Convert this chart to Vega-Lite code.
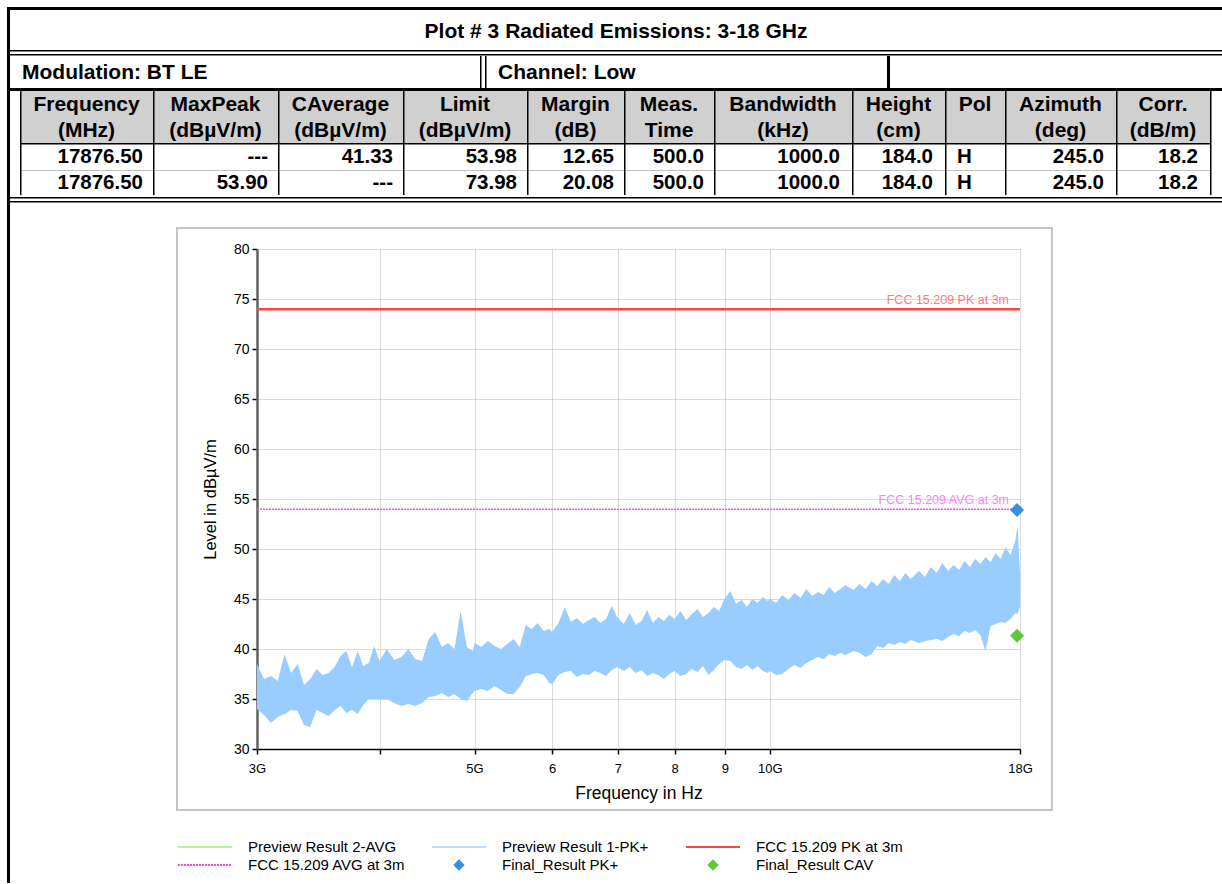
{
  "$schema": "https://vega.github.io/schema/vega-lite/v6.json",
  "padding": {"left": 7, "top": 7, "right": 0, "bottom": 0},
  "background": "white",
  "config": {
    "view": {"stroke": null},
    "font": "Liberation Sans",
    "text": {"font": "Liberation Sans"}
  },
  "datasets": {
    "table": [
      {"c": "freq", "r": "h1", "t": "Frequency"}, {"c": "freq", "r": "h2", "t": "(MHz)"}, {"c": "freq", "r": "d1", "t": "17876.50"}, {"c": "freq", "r": "d2", "t": "17876.50"},
      {"c": "maxpk", "r": "h1", "t": "MaxPeak"}, {"c": "maxpk", "r": "h2", "t": "(dBµV/m)"}, {"c": "maxpk", "r": "d1", "t": "---"}, {"c": "maxpk", "r": "d2", "t": "53.90"},
      {"c": "cavg", "r": "h1", "t": "CAverage"}, {"c": "cavg", "r": "h2", "t": "(dBµV/m)"}, {"c": "cavg", "r": "d1", "t": "41.33"}, {"c": "cavg", "r": "d2", "t": "---"},
      {"c": "limit", "r": "h1", "t": "Limit"}, {"c": "limit", "r": "h2", "t": "(dBµV/m)"}, {"c": "limit", "r": "d1", "t": "53.98"}, {"c": "limit", "r": "d2", "t": "73.98"},
      {"c": "margin", "r": "h1", "t": "Margin"}, {"c": "margin", "r": "h2", "t": "(dB)"}, {"c": "margin", "r": "d1", "t": "12.65"}, {"c": "margin", "r": "d2", "t": "20.08"},
      {"c": "meas", "r": "h1", "t": "Meas."}, {"c": "meas", "r": "h2", "t": "Time"}, {"c": "meas", "r": "d1", "t": "500.0"}, {"c": "meas", "r": "d2", "t": "500.0"},
      {"c": "bw", "r": "h1", "t": "Bandwidth"}, {"c": "bw", "r": "h2", "t": "(kHz)"}, {"c": "bw", "r": "d1", "t": "1000.0"}, {"c": "bw", "r": "d2", "t": "1000.0"},
      {"c": "height", "r": "h1", "t": "Height"}, {"c": "height", "r": "h2", "t": "(cm)"}, {"c": "height", "r": "d1", "t": "184.0"}, {"c": "height", "r": "d2", "t": "184.0"},
      {"c": "pol", "r": "h1", "t": "Pol"}, {"c": "pol", "r": "h2", "t": ""}, {"c": "pol", "r": "d1", "t": "H"}, {"c": "pol", "r": "d2", "t": "H"},
      {"c": "az", "r": "h1", "t": "Azimuth"}, {"c": "az", "r": "h2", "t": "(deg)"}, {"c": "az", "r": "d1", "t": "245.0"}, {"c": "az", "r": "d2", "t": "245.0"},
      {"c": "corr", "r": "h1", "t": "Corr."}, {"c": "corr", "r": "h2", "t": "(dB/m)"}, {"c": "corr", "r": "d1", "t": "18.2"}, {"c": "corr", "r": "d2", "t": "18.2"}
    ],
    "trace": [
      {"f": 3000, "lo": 34.0, "hi": 38.5}, {"f": 3050, "lo": 33.4, "hi": 37.0}, {"f": 3100, "lo": 32.6, "hi": 37.3}, {"f": 3150, "lo": 33.2, "hi": 36.8},
      {"f": 3200, "lo": 33.5, "hi": 39.5}, {"f": 3250, "lo": 33.9, "hi": 37.6}, {"f": 3300, "lo": 33.8, "hi": 38.5}, {"f": 3350, "lo": 32.4, "hi": 36.4},
      {"f": 3400, "lo": 32.2, "hi": 37.0}, {"f": 3450, "lo": 33.9, "hi": 38.0}, {"f": 3500, "lo": 33.6, "hi": 37.4}, {"f": 3550, "lo": 33.3, "hi": 37.6},
      {"f": 3600, "lo": 33.9, "hi": 38.2}, {"f": 3650, "lo": 34.3, "hi": 39.3}, {"f": 3700, "lo": 33.6, "hi": 39.8}, {"f": 3750, "lo": 33.9, "hi": 38.2},
      {"f": 3800, "lo": 33.5, "hi": 39.8}, {"f": 3850, "lo": 34.4, "hi": 38.3}, {"f": 3900, "lo": 35.0, "hi": 38.6}, {"f": 3950, "lo": 35.0, "hi": 40.3},
      {"f": 4000, "lo": 35.0, "hi": 38.8}, {"f": 4070, "lo": 35.0, "hi": 40.0}, {"f": 4140, "lo": 34.6, "hi": 38.9}, {"f": 4210, "lo": 34.3, "hi": 39.2},
      {"f": 4280, "lo": 34.5, "hi": 40.0}, {"f": 4350, "lo": 34.3, "hi": 39.0}, {"f": 4420, "lo": 34.6, "hi": 38.8}, {"f": 4490, "lo": 35.2, "hi": 41.0},
      {"f": 4560, "lo": 35.3, "hi": 41.7}, {"f": 4630, "lo": 35.6, "hi": 40.2}, {"f": 4700, "lo": 35.2, "hi": 40.6}, {"f": 4770, "lo": 35.5, "hi": 40.0},
      {"f": 4840, "lo": 35.0, "hi": 43.8}, {"f": 4910, "lo": 34.8, "hi": 40.2}, {"f": 4980, "lo": 35.6, "hi": 39.8},
      {"f": 5000, "lo": 35.8, "hi": 40.6}, {"f": 5080, "lo": 36.0, "hi": 40.2}, {"f": 5160, "lo": 35.8, "hi": 40.8}, {"f": 5240, "lo": 36.3, "hi": 40.3},
      {"f": 5320, "lo": 35.9, "hi": 40.0}, {"f": 5400, "lo": 35.5, "hi": 40.5}, {"f": 5480, "lo": 35.5, "hi": 41.0}, {"f": 5560, "lo": 36.2, "hi": 40.2},
      {"f": 5640, "lo": 37.3, "hi": 42.4}, {"f": 5720, "lo": 37.5, "hi": 42.0}, {"f": 5800, "lo": 37.6, "hi": 42.6}, {"f": 5880, "lo": 37.4, "hi": 41.8},
      {"f": 5960, "lo": 36.6, "hi": 42.0},
      {"f": 6000, "lo": 36.5, "hi": 41.7}, {"f": 6090, "lo": 37.4, "hi": 42.6}, {"f": 6180, "lo": 37.7, "hi": 44.2}, {"f": 6270, "lo": 37.8, "hi": 42.7},
      {"f": 6360, "lo": 37.2, "hi": 43.1}, {"f": 6450, "lo": 37.5, "hi": 42.5}, {"f": 6540, "lo": 37.4, "hi": 42.9}, {"f": 6630, "lo": 37.8, "hi": 43.2},
      {"f": 6720, "lo": 37.6, "hi": 42.6}, {"f": 6810, "lo": 37.3, "hi": 43.0}, {"f": 6900, "lo": 37.9, "hi": 44.3}, {"f": 6990, "lo": 38.2, "hi": 43.2},
      {"f": 7100, "lo": 37.8, "hi": 42.5}, {"f": 7200, "lo": 38.2, "hi": 43.6}, {"f": 7300, "lo": 37.6, "hi": 42.4}, {"f": 7400, "lo": 37.9, "hi": 42.8},
      {"f": 7500, "lo": 37.3, "hi": 43.9}, {"f": 7600, "lo": 37.6, "hi": 42.6}, {"f": 7700, "lo": 37.4, "hi": 43.2}, {"f": 7800, "lo": 37.0, "hi": 42.8},
      {"f": 7900, "lo": 37.5, "hi": 43.4},
      {"f": 8000, "lo": 37.8, "hi": 43.0}, {"f": 8110, "lo": 37.3, "hi": 43.8}, {"f": 8220, "lo": 37.5, "hi": 42.9}, {"f": 8330, "lo": 38.0, "hi": 43.5},
      {"f": 8440, "lo": 37.7, "hi": 44.0}, {"f": 8550, "lo": 38.3, "hi": 43.2}, {"f": 8660, "lo": 37.4, "hi": 43.6}, {"f": 8770, "lo": 37.9, "hi": 44.2},
      {"f": 8880, "lo": 38.5, "hi": 43.8}, {"f": 8990, "lo": 38.9, "hi": 45.0},
      {"f": 9120, "lo": 38.8, "hi": 45.8}, {"f": 9240, "lo": 38.2, "hi": 44.5}, {"f": 9360, "lo": 38.0, "hi": 44.9}, {"f": 9480, "lo": 38.4, "hi": 44.2},
      {"f": 9600, "lo": 37.9, "hi": 45.0}, {"f": 9720, "lo": 38.3, "hi": 44.6}, {"f": 9840, "lo": 37.8, "hi": 45.2}, {"f": 9960, "lo": 37.6, "hi": 44.8},
      {"f": 10000, "lo": 37.8, "hi": 45.0}, {"f": 10150, "lo": 37.4, "hi": 44.6}, {"f": 10300, "lo": 37.5, "hi": 45.4}, {"f": 10450, "lo": 38.0, "hi": 44.9},
      {"f": 10600, "lo": 38.4, "hi": 45.6}, {"f": 10750, "lo": 38.1, "hi": 45.1}, {"f": 10900, "lo": 38.6, "hi": 46.0}, {"f": 11050, "lo": 38.9, "hi": 45.3},
      {"f": 11200, "lo": 39.2, "hi": 45.7}, {"f": 11350, "lo": 39.0, "hi": 45.4}, {"f": 11500, "lo": 39.5, "hi": 46.2}, {"f": 11650, "lo": 39.3, "hi": 45.6},
      {"f": 11800, "lo": 39.6, "hi": 46.0}, {"f": 11950, "lo": 39.4, "hi": 46.4}, {"f": 12175, "lo": 39.8, "hi": 45.9}, {"f": 12350, "lo": 39.6, "hi": 46.5},
      {"f": 12525, "lo": 39.2, "hi": 46.0}, {"f": 12700, "lo": 39.5, "hi": 46.8}, {"f": 12875, "lo": 40.3, "hi": 46.3}, {"f": 13050, "lo": 40.1, "hi": 47.0},
      {"f": 13225, "lo": 40.6, "hi": 46.5}, {"f": 13400, "lo": 40.4, "hi": 47.4}, {"f": 13575, "lo": 40.7, "hi": 46.8}, {"f": 13750, "lo": 40.5, "hi": 47.6},
      {"f": 13925, "lo": 40.9, "hi": 47.0}, {"f": 14200, "lo": 40.6, "hi": 47.8}, {"f": 14400, "lo": 40.8, "hi": 47.2}, {"f": 14600, "lo": 40.9, "hi": 48.2},
      {"f": 14800, "lo": 41.0, "hi": 47.6}, {"f": 15000, "lo": 40.8, "hi": 48.6}, {"f": 15200, "lo": 41.2, "hi": 47.8}, {"f": 15400, "lo": 41.5, "hi": 48.4},
      {"f": 15600, "lo": 41.3, "hi": 47.9}, {"f": 15800, "lo": 41.8, "hi": 48.8}, {"f": 16000, "lo": 41.6, "hi": 48.2}, {"f": 16200, "lo": 41.9, "hi": 49.0},
      {"f": 16400, "lo": 41.4, "hi": 48.5}, {"f": 16600, "lo": 39.8, "hi": 49.2}, {"f": 16800, "lo": 42.3, "hi": 48.7}, {"f": 17000, "lo": 42.5, "hi": 49.6},
      {"f": 17200, "lo": 42.7, "hi": 49.0}, {"f": 17400, "lo": 42.6, "hi": 50.2}, {"f": 17600, "lo": 43.0, "hi": 49.4}, {"f": 17800, "lo": 43.6, "hi": 50.8},
      {"f": 17900, "lo": 43.5, "hi": 52.3}, {"f": 18000, "lo": 44.2, "hi": 47.5}
    ],
    "limits": [
      {"series": "FCC 15.209 PK at 3m", "f": 3000, "level": 73.98},
      {"series": "FCC 15.209 PK at 3m", "f": 18000, "level": 73.98},
      {"series": "FCC 15.209 AVG at 3m", "f": 3000, "level": 53.98},
      {"series": "FCC 15.209 AVG at 3m", "f": 18000, "level": 53.98}
    ],
    "finals": [
      {"series": "Final_Result PK+", "f": 17876.5, "level": 53.90},
      {"series": "Final_Result CAV", "f": 17876.5, "level": 41.33}
    ],
    "legend": [
      {"series": "Preview Result 2-AVG"},
      {"series": "Preview Result 1-PK+"},
      {"series": "FCC 15.209 PK at 3m"},
      {"series": "FCC 15.209 AVG at 3m"},
      {"series": "Final_Result PK+"},
      {"series": "Final_Result CAV"}
    ]
  },
  "spacing": 0,
  "hconcat": [
    {"width": 3, "height": 876, "data": {"values": [{}]}, "mark": {"type": "rect", "color": "#000"}},
    {
      "spacing": 0,
      "vconcat": [
        {"width": 1212, "height": 3, "data": {"values": [{}]}, "mark": {"type": "rect", "color": "#000"}},
        {"width": 1212, "height": 40, "data": {"values": [{"t": "Plot # 3 Radiated Emissions: 3-18 GHz"}]},
         "mark": {"type": "text", "fontSize": 21, "fontWeight": "bold", "align": "center", "baseline": "middle", "dy": 2, "color": "#000"},
         "encoding": {"text": {"field": "t"}}},
        {"width": 1212, "height": 1.5, "data": {"values": [{}]}, "mark": {"type": "rect", "color": "#000"}},
        {"width": 1212, "height": 1.5, "data": {"values": []}, "mark": "rect"},
        {"width": 1212, "height": 1.5, "data": {"values": [{}]}, "mark": {"type": "rect", "color": "#000"}},
        {
          "spacing": 0,
          "hconcat": [
            {"width": 470, "height": 32, "data": {"values": [{"t": "Modulation: BT LE"}]},
             "mark": {"type": "text", "fontSize": 21, "fontWeight": "bold", "align": "left", "baseline": "middle", "x": 0, "dx": 12, "dy": 1, "color": "#000"},
             "encoding": {"text": {"field": "t"}}},
            {"width": 1.5, "height": 32, "data": {"values": [{}]}, "mark": {"type": "rect", "color": "#000"}},
            {"width": 3, "height": 32, "data": {"values": []}, "mark": "rect"},
            {"width": 1.5, "height": 32, "data": {"values": [{}]}, "mark": {"type": "rect", "color": "#000"}},
            {"width": 400, "height": 32, "data": {"values": [{"t": "Channel: Low"}]},
             "mark": {"type": "text", "fontSize": 21, "fontWeight": "bold", "align": "left", "baseline": "middle", "x": 0, "dx": 11, "dy": 1, "color": "#000"},
             "encoding": {"text": {"field": "t"}}},
            {"width": 3, "height": 32, "data": {"values": [{}]}, "mark": {"type": "rect", "color": "#000"}},
            {"width": 333, "height": 32, "data": {"values": []}, "mark": "rect"}
          ]
        },
        {"width": 1212, "height": 3, "data": {"values": [{}]}, "mark": {"type": "rect", "color": "#000"}},
        {
          "spacing": 0,
          "data": {"name": "table"},
          "hconcat": [
            {"width": 10, "height": 104, "data": {"values": []}, "mark": "rect"},
            {"width": 133, "height": 104, "view": {"fill": "#000"}, "transform": [{"filter": "datum.c === 'freq'"}],
             "encoding": {"y": {"field": "r", "type": "nominal", "axis": null, "scale": {"type": "band", "domain": ["h1", "h2", "d1", "d2"], "paddingInner": 0, "paddingOuter": 0}}},
             "layer": [
               {"transform": [{"filter": "datum.r[0] === 'h'"}], "mark": {"type": "rect", "color": "#d0d0d0", "x": 1.5, "x2": "width"}},
               {"transform": [{"filter": "datum.r[0] === 'd'"}], "mark": {"type": "rect", "color": "#fff", "x": 1.5, "x2": "width", "yOffset": 1.5}},
               {"transform": [{"filter": "datum.r[0] === 'h'"}], "mark": {"type": "text", "fontSize": 21, "fontWeight": "bold", "align": "center", "baseline": "middle", "dy": 1, "color": "#000"}, "encoding": {"text": {"field": "t"}}},
               {"transform": [{"filter": "datum.r[0] === 'd'"}], "mark": {"type": "text", "fontSize": 20.5, "fontWeight": "bold", "align": "right", "baseline": "middle", "x": "width", "dx": -10, "dy": 1, "color": "#000"}, "encoding": {"text": {"field": "t"}}}
             ]},
            {"width": 125, "height": 104, "view": {"fill": "#000"}, "transform": [{"filter": "datum.c === 'maxpk'"}],
             "encoding": {"y": {"field": "r", "type": "nominal", "axis": null, "scale": {"type": "band", "domain": ["h1", "h2", "d1", "d2"], "paddingInner": 0, "paddingOuter": 0}}},
             "layer": [
               {"transform": [{"filter": "datum.r[0] === 'h'"}], "mark": {"type": "rect", "color": "#d0d0d0", "x": 1.5, "x2": "width"}},
               {"transform": [{"filter": "datum.r[0] === 'd'"}], "mark": {"type": "rect", "color": "#fff", "x": 1.5, "x2": "width", "yOffset": 1.5}},
               {"transform": [{"filter": "datum.r[0] === 'h'"}], "mark": {"type": "text", "fontSize": 21, "fontWeight": "bold", "align": "center", "baseline": "middle", "dy": 1, "color": "#000"}, "encoding": {"text": {"field": "t"}}},
               {"transform": [{"filter": "datum.r[0] === 'd'"}], "mark": {"type": "text", "fontSize": 20.5, "fontWeight": "bold", "align": "right", "baseline": "middle", "x": "width", "dx": -10, "dy": 1, "color": "#000"}, "encoding": {"text": {"field": "t"}}}
             ]},
            {"width": 125, "height": 104, "view": {"fill": "#000"}, "transform": [{"filter": "datum.c === 'cavg'"}],
             "encoding": {"y": {"field": "r", "type": "nominal", "axis": null, "scale": {"type": "band", "domain": ["h1", "h2", "d1", "d2"], "paddingInner": 0, "paddingOuter": 0}}},
             "layer": [
               {"transform": [{"filter": "datum.r[0] === 'h'"}], "mark": {"type": "rect", "color": "#d0d0d0", "x": 1.5, "x2": "width"}},
               {"transform": [{"filter": "datum.r[0] === 'd'"}], "mark": {"type": "rect", "color": "#fff", "x": 1.5, "x2": "width", "yOffset": 1.5}},
               {"transform": [{"filter": "datum.r[0] === 'h'"}], "mark": {"type": "text", "fontSize": 21, "fontWeight": "bold", "align": "center", "baseline": "middle", "dy": 1, "color": "#000"}, "encoding": {"text": {"field": "t"}}},
               {"transform": [{"filter": "datum.r[0] === 'd'"}], "mark": {"type": "text", "fontSize": 20.5, "fontWeight": "bold", "align": "right", "baseline": "middle", "x": "width", "dx": -10, "dy": 1, "color": "#000"}, "encoding": {"text": {"field": "t"}}}
             ]},
            {"width": 124, "height": 104, "view": {"fill": "#000"}, "transform": [{"filter": "datum.c === 'limit'"}],
             "encoding": {"y": {"field": "r", "type": "nominal", "axis": null, "scale": {"type": "band", "domain": ["h1", "h2", "d1", "d2"], "paddingInner": 0, "paddingOuter": 0}}},
             "layer": [
               {"transform": [{"filter": "datum.r[0] === 'h'"}], "mark": {"type": "rect", "color": "#d0d0d0", "x": 1.5, "x2": "width"}},
               {"transform": [{"filter": "datum.r[0] === 'd'"}], "mark": {"type": "rect", "color": "#fff", "x": 1.5, "x2": "width", "yOffset": 1.5}},
               {"transform": [{"filter": "datum.r[0] === 'h'"}], "mark": {"type": "text", "fontSize": 21, "fontWeight": "bold", "align": "center", "baseline": "middle", "dy": 1, "color": "#000"}, "encoding": {"text": {"field": "t"}}},
               {"transform": [{"filter": "datum.r[0] === 'd'"}], "mark": {"type": "text", "fontSize": 20.5, "fontWeight": "bold", "align": "right", "baseline": "middle", "x": "width", "dx": -10, "dy": 1, "color": "#000"}, "encoding": {"text": {"field": "t"}}}
             ]},
            {"width": 97, "height": 104, "view": {"fill": "#000"}, "transform": [{"filter": "datum.c === 'margin'"}],
             "encoding": {"y": {"field": "r", "type": "nominal", "axis": null, "scale": {"type": "band", "domain": ["h1", "h2", "d1", "d2"], "paddingInner": 0, "paddingOuter": 0}}},
             "layer": [
               {"transform": [{"filter": "datum.r[0] === 'h'"}], "mark": {"type": "rect", "color": "#d0d0d0", "x": 1.5, "x2": "width"}},
               {"transform": [{"filter": "datum.r[0] === 'd'"}], "mark": {"type": "rect", "color": "#fff", "x": 1.5, "x2": "width", "yOffset": 1.5}},
               {"transform": [{"filter": "datum.r[0] === 'h'"}], "mark": {"type": "text", "fontSize": 21, "fontWeight": "bold", "align": "center", "baseline": "middle", "dy": 1, "color": "#000"}, "encoding": {"text": {"field": "t"}}},
               {"transform": [{"filter": "datum.r[0] === 'd'"}], "mark": {"type": "text", "fontSize": 20.5, "fontWeight": "bold", "align": "right", "baseline": "middle", "x": "width", "dx": -10, "dy": 1, "color": "#000"}, "encoding": {"text": {"field": "t"}}}
             ]},
            {"width": 90, "height": 104, "view": {"fill": "#000"}, "transform": [{"filter": "datum.c === 'meas'"}],
             "encoding": {"y": {"field": "r", "type": "nominal", "axis": null, "scale": {"type": "band", "domain": ["h1", "h2", "d1", "d2"], "paddingInner": 0, "paddingOuter": 0}}},
             "layer": [
               {"transform": [{"filter": "datum.r[0] === 'h'"}], "mark": {"type": "rect", "color": "#d0d0d0", "x": 1.5, "x2": "width"}},
               {"transform": [{"filter": "datum.r[0] === 'd'"}], "mark": {"type": "rect", "color": "#fff", "x": 1.5, "x2": "width", "yOffset": 1.5}},
               {"transform": [{"filter": "datum.r[0] === 'h'"}], "mark": {"type": "text", "fontSize": 21, "fontWeight": "bold", "align": "center", "baseline": "middle", "dy": 1, "color": "#000"}, "encoding": {"text": {"field": "t"}}},
               {"transform": [{"filter": "datum.r[0] === 'd'"}], "mark": {"type": "text", "fontSize": 20.5, "fontWeight": "bold", "align": "right", "baseline": "middle", "x": "width", "dx": -10, "dy": 1, "color": "#000"}, "encoding": {"text": {"field": "t"}}}
             ]},
            {"width": 138, "height": 104, "view": {"fill": "#000"}, "transform": [{"filter": "datum.c === 'bw'"}],
             "encoding": {"y": {"field": "r", "type": "nominal", "axis": null, "scale": {"type": "band", "domain": ["h1", "h2", "d1", "d2"], "paddingInner": 0, "paddingOuter": 0}}},
             "layer": [
               {"transform": [{"filter": "datum.r[0] === 'h'"}], "mark": {"type": "rect", "color": "#d0d0d0", "x": 1.5, "x2": "width"}},
               {"transform": [{"filter": "datum.r[0] === 'd'"}], "mark": {"type": "rect", "color": "#fff", "x": 1.5, "x2": "width", "yOffset": 1.5}},
               {"transform": [{"filter": "datum.r[0] === 'h'"}], "mark": {"type": "text", "fontSize": 21, "fontWeight": "bold", "align": "center", "baseline": "middle", "dy": 1, "color": "#000"}, "encoding": {"text": {"field": "t"}}},
               {"transform": [{"filter": "datum.r[0] === 'd'"}], "mark": {"type": "text", "fontSize": 20.5, "fontWeight": "bold", "align": "right", "baseline": "middle", "x": "width", "dx": -12, "dy": 1, "color": "#000"}, "encoding": {"text": {"field": "t"}}}
             ]},
            {"width": 93, "height": 104, "view": {"fill": "#000"}, "transform": [{"filter": "datum.c === 'height'"}],
             "encoding": {"y": {"field": "r", "type": "nominal", "axis": null, "scale": {"type": "band", "domain": ["h1", "h2", "d1", "d2"], "paddingInner": 0, "paddingOuter": 0}}},
             "layer": [
               {"transform": [{"filter": "datum.r[0] === 'h'"}], "mark": {"type": "rect", "color": "#d0d0d0", "x": 1.5, "x2": "width"}},
               {"transform": [{"filter": "datum.r[0] === 'd'"}], "mark": {"type": "rect", "color": "#fff", "x": 1.5, "x2": "width", "yOffset": 1.5}},
               {"transform": [{"filter": "datum.r[0] === 'h'"}], "mark": {"type": "text", "fontSize": 21, "fontWeight": "bold", "align": "center", "baseline": "middle", "dy": 1, "color": "#000"}, "encoding": {"text": {"field": "t"}}},
               {"transform": [{"filter": "datum.r[0] === 'd'"}], "mark": {"type": "text", "fontSize": 20.5, "fontWeight": "bold", "align": "right", "baseline": "middle", "x": "width", "dx": -12, "dy": 1, "color": "#000"}, "encoding": {"text": {"field": "t"}}}
             ]},
            {"width": 60, "height": 104, "view": {"fill": "#000"}, "transform": [{"filter": "datum.c === 'pol'"}],
             "encoding": {"y": {"field": "r", "type": "nominal", "axis": null, "scale": {"type": "band", "domain": ["h1", "h2", "d1", "d2"], "paddingInner": 0, "paddingOuter": 0}}},
             "layer": [
               {"transform": [{"filter": "datum.r[0] === 'h'"}], "mark": {"type": "rect", "color": "#d0d0d0", "x": 1.5, "x2": "width"}},
               {"transform": [{"filter": "datum.r[0] === 'd'"}], "mark": {"type": "rect", "color": "#fff", "x": 1.5, "x2": "width", "yOffset": 1.5}},
               {"transform": [{"filter": "datum.r[0] === 'h'"}], "mark": {"type": "text", "fontSize": 21, "fontWeight": "bold", "align": "center", "baseline": "middle", "dy": 1, "color": "#000"}, "encoding": {"text": {"field": "t"}}},
               {"transform": [{"filter": "datum.r[0] === 'd'"}], "mark": {"type": "text", "fontSize": 20.5, "fontWeight": "bold", "align": "left", "baseline": "middle", "x": 0, "dx": 12, "dy": 1, "color": "#000"}, "encoding": {"text": {"field": "t"}}}
             ]},
            {"width": 111, "height": 104, "view": {"fill": "#000"}, "transform": [{"filter": "datum.c === 'az'"}],
             "encoding": {"y": {"field": "r", "type": "nominal", "axis": null, "scale": {"type": "band", "domain": ["h1", "h2", "d1", "d2"], "paddingInner": 0, "paddingOuter": 0}}},
             "layer": [
               {"transform": [{"filter": "datum.r[0] === 'h'"}], "mark": {"type": "rect", "color": "#d0d0d0", "x": 1.5, "x2": "width"}},
               {"transform": [{"filter": "datum.r[0] === 'd'"}], "mark": {"type": "rect", "color": "#fff", "x": 1.5, "x2": "width", "yOffset": 1.5}},
               {"transform": [{"filter": "datum.r[0] === 'h'"}], "mark": {"type": "text", "fontSize": 21, "fontWeight": "bold", "align": "center", "baseline": "middle", "dy": 1, "color": "#000"}, "encoding": {"text": {"field": "t"}}},
               {"transform": [{"filter": "datum.r[0] === 'd'"}], "mark": {"type": "text", "fontSize": 20.5, "fontWeight": "bold", "align": "right", "baseline": "middle", "x": "width", "dx": -12, "dy": 1, "color": "#000"}, "encoding": {"text": {"field": "t"}}}
             ]},
            {"width": 94, "height": 104, "view": {"fill": "#000"}, "transform": [{"filter": "datum.c === 'corr'"}],
             "encoding": {"y": {"field": "r", "type": "nominal", "axis": null, "scale": {"type": "band", "domain": ["h1", "h2", "d1", "d2"], "paddingInner": 0, "paddingOuter": 0}}},
             "layer": [
               {"transform": [{"filter": "datum.r[0] === 'h'"}], "mark": {"type": "rect", "color": "#d0d0d0", "x": 1.5, "x2": "width"}},
               {"transform": [{"filter": "datum.r[0] === 'd'"}], "mark": {"type": "rect", "color": "#fff", "x": 1.5, "x2": "width", "yOffset": 1.5}},
               {"transform": [{"filter": "datum.r[0] === 'h'"}], "mark": {"type": "text", "fontSize": 21, "fontWeight": "bold", "align": "center", "baseline": "middle", "dy": 1, "color": "#000"}, "encoding": {"text": {"field": "t"}}},
               {"transform": [{"filter": "datum.r[0] === 'd'"}], "mark": {"type": "text", "fontSize": 20.5, "fontWeight": "bold", "align": "right", "baseline": "middle", "x": "width", "dx": -12, "dy": 1, "color": "#000"}, "encoding": {"text": {"field": "t"}}}
             ]},
            {"width": 1.5, "height": 104, "data": {"values": [{}]}, "mark": {"type": "rect", "color": "#000"}}
          ]
        },
        {"width": 1212, "height": 1.5, "data": {"values": [{}]}, "mark": {"type": "rect", "color": "#000"}},
        {"width": 1212, "height": 1.5, "data": {"values": []}, "mark": "rect"},
        {"width": 1212, "height": 1.5, "data": {"values": [{}]}, "mark": {"type": "rect", "color": "#000"}},
        {"width": 1212, "height": 23.5, "data": {"values": []}, "mark": "rect"},
        {
          "spacing": 0,
          "hconcat": [
            {"width": 165, "height": 500, "data": {"values": []}, "mark": "rect"},
            {
              "width": 763,
              "height": 500,
              "layer": [
                {
                  "data": {"name": "trace"},
                  "mark": {"type": "area", "color": "#99ccff", "opacity": 1},
                  "encoding": {
                    "x": {"field": "f", "type": "quantitative", "scale": {"type": "log", "domain": [3000, 18000], "nice": false},
                      "axis": {"title": "Frequency in Hz", "values": [3000, 4000, 5000, 6000, 7000, 8000, 9000, 10000, 18000],
                        "labelExpr": "datum.value == 3000 ? '3G' : datum.value == 4000 ? '' : datum.value == 5000 ? '5G' : datum.value == 10000 ? '10G' : datum.value == 18000 ? '18G' : format(datum.value / 1000, 'd')",
                        "grid": true, "gridDash": [1, 1], "gridColor": "#b4b4b4", "gridWidth": 1,
                        "domainColor": "#000", "domainWidth": 1.5, "tickColor": "#000", "tickWidth": 1.5, "tickSize": 5,
                        "labelFontSize": 13, "labelColor": "#000", "labelPadding": 8, "labelFlush": false, "labelOverlap": false,
                        "titleFontSize": 17.5, "titleFontWeight": "normal", "titleColor": "#000", "titlePadding": 9}},
                    "y": {"field": "lo", "type": "quantitative", "scale": {"domain": [30, 80], "nice": false, "zero": false},
                      "axis": {"title": "Level in dBµV/m", "values": [30, 32.5, 35, 37.5, 40, 42.5, 45, 47.5, 50, 52.5, 55, 57.5, 60, 62.5, 65, 67.5, 70, 72.5, 75, 77.5, 80],
                        "labelExpr": "datum.value % 5 === 0 ? datum.label : ''",
                        "grid": true, "gridDash": [1, 1], "gridColor": "#b4b4b4", "gridWidth": 1,
                        "domainColor": "#606060", "domainWidth": 2.5, "tickColor": "#000", "tickWidth": 1.5, "tickSize": 5,
                        "labelFontSize": 14, "labelColor": "#000", "labelPadding": 3, "labelFlush": false, "labelOverlap": false,
                        "titleFontSize": 16.5, "titleFontWeight": "normal", "titleColor": "#000", "titlePadding": 15}},
                    "y2": {"field": "hi"}
                  }
                },
                {
                  "data": {"values": [{}]},
                  "mark": {"type": "rect", "filled": false, "color": "#c4c4c4", "strokeWidth": 2, "clip": false},
                  "encoding": {
                    "x": {"datum": 2486, "type": "quantitative", "scale": {"type": "log", "domain": [3000, 18000], "nice": false}},
                    "x2": {"datum": 19400},
                    "y": {"datum": 82.1, "type": "quantitative", "scale": {"domain": [30, 80], "nice": false, "zero": false}},
                    "y2": {"datum": 23.9}
                  }
                },
                {
                  "data": {"name": "limits"},
                  "mark": {"type": "line"},
                  "encoding": {
                    "x": {"field": "f", "type": "quantitative", "scale": {"type": "log", "domain": [3000, 18000], "nice": false}},
                    "y": {"field": "level", "type": "quantitative", "scale": {"domain": [30, 80], "nice": false, "zero": false}},
                    "color": {"field": "series", "type": "nominal", "legend": null,
                      "scale": {"domain": ["Preview Result 2-AVG", "Preview Result 1-PK+", "FCC 15.209 PK at 3m", "FCC 15.209 AVG at 3m", "Final_Result PK+", "Final_Result CAV"],
                        "range": ["#b6f592", "#bcdcff", "#ff4444", "#ff44ff", "#3a8fdc", "#5cc83a"]}},
                    "strokeDash": {"field": "series", "type": "nominal", "legend": null,
                      "scale": {"domain": ["Preview Result 2-AVG", "Preview Result 1-PK+", "FCC 15.209 PK at 3m", "FCC 15.209 AVG at 3m"], "range": [[1, 0], [1, 0], [1, 0], [2, 1]]}},
                    "strokeWidth": {"field": "series", "type": "nominal", "legend": null,
                      "scale": {"domain": ["FCC 15.209 PK at 3m", "FCC 15.209 AVG at 3m"], "range": [2.5, 1.5]}}
                  }
                },
                {
                  "data": {"name": "limits"},
                  "transform": [{"filter": "datum.f === 18000"}],
                  "mark": {"type": "text", "align": "right", "baseline": "bottom", "dx": -11, "dy": -2, "fontSize": 12.5},
                  "encoding": {
                    "x": {"field": "f", "type": "quantitative", "scale": {"type": "log", "domain": [3000, 18000], "nice": false}},
                    "y": {"field": "level", "type": "quantitative", "scale": {"domain": [30, 80], "nice": false, "zero": false}},
                    "text": {"field": "series"},
                    "color": {"condition": {"test": "datum.series === 'FCC 15.209 PK at 3m'", "value": "#ff7a7a"}, "value": "#ff80ff"}
                  }
                },
                {
                  "data": {"name": "finals"},
                  "mark": {"type": "point", "shape": "diamond", "size": 200, "filled": true, "opacity": 1},
                  "encoding": {
                    "x": {"field": "f", "type": "quantitative", "scale": {"type": "log", "domain": [3000, 18000], "nice": false}},
                    "y": {"field": "level", "type": "quantitative", "scale": {"domain": [30, 80], "nice": false, "zero": false}},
                    "color": {"field": "series", "type": "nominal", "legend": null,
                      "scale": {"domain": ["Preview Result 2-AVG", "Preview Result 1-PK+", "FCC 15.209 PK at 3m", "FCC 15.209 AVG at 3m", "Final_Result PK+", "Final_Result CAV"],
                        "range": ["#b6f592", "#bcdcff", "#ff4444", "#ff44ff", "#3a8fdc", "#5cc83a"]}}
                  }
                }
              ]
            }
          ]
        },
        {"width": 1212, "height": 27, "data": {"values": []}, "mark": "rect"},
        {
          "spacing": 0,
          "hconcat": [
            {"width": 164, "height": 36, "data": {"values": []}, "mark": "rect"},
            {
              "width": 762,
              "height": 36,
              "data": {"name": "legend"},
              "transform": [
                {"window": [{"op": "row_number", "as": "i"}]},
                {"calculate": "(datum.i - 1) % 3", "as": "col"},
                {"calculate": "floor((datum.i - 1) / 3)", "as": "row"}
              ],
              "encoding": {
                "x": {"field": "col", "type": "ordinal", "bandPosition": 0, "axis": null, "scale": {"type": "band", "paddingInner": 0, "paddingOuter": 0}},
                "y": {"field": "row", "type": "ordinal", "axis": null, "scale": {"type": "band", "paddingInner": 0, "paddingOuter": 0}}
              },
              "layer": [
                {
                  "transform": [{"filter": "indexof(['Final_Result PK+', 'Final_Result CAV'], datum.series) < 0"}],
                  "mark": {"type": "point", "shape": "stroke", "size": 2916, "filled": false, "strokeWidth": 2, "xOffset": 27, "opacity": 1},
                  "encoding": {
                    "color": {"field": "series", "type": "nominal", "legend": null,
                      "scale": {"domain": ["Preview Result 2-AVG", "Preview Result 1-PK+", "FCC 15.209 PK at 3m", "FCC 15.209 AVG at 3m", "Final_Result PK+", "Final_Result CAV"],
                        "range": ["#b6f592", "#bcdcff", "#ff4444", "#ff44ff", "#3a8fdc", "#5cc83a"]}},
                    "strokeDash": {"field": "series", "type": "nominal", "legend": null,
                      "scale": {"domain": ["Preview Result 2-AVG", "Preview Result 1-PK+", "FCC 15.209 PK at 3m", "FCC 15.209 AVG at 3m"], "range": [[1, 0], [1, 0], [1, 0], [2, 1]]}}
                  }
                },
                {
                  "transform": [{"filter": "indexof(['Final_Result PK+', 'Final_Result CAV'], datum.series) >= 0"}],
                  "mark": {"type": "point", "shape": "diamond", "size": 130, "filled": true, "xOffset": 27, "opacity": 1},
                  "encoding": {
                    "color": {"field": "series", "type": "nominal", "legend": null,
                      "scale": {"domain": ["Preview Result 2-AVG", "Preview Result 1-PK+", "FCC 15.209 PK at 3m", "FCC 15.209 AVG at 3m", "Final_Result PK+", "Final_Result CAV"],
                        "range": ["#b6f592", "#bcdcff", "#ff4444", "#ff44ff", "#3a8fdc", "#5cc83a"]}}
                  }
                },
                {
                  "mark": {"type": "text", "align": "left", "baseline": "middle", "dx": 70, "fontSize": 15, "color": "#000"},
                  "encoding": {"text": {"field": "series"}}
                }
              ]
            }
          ]
        }
      ]
    }
  ]
}
